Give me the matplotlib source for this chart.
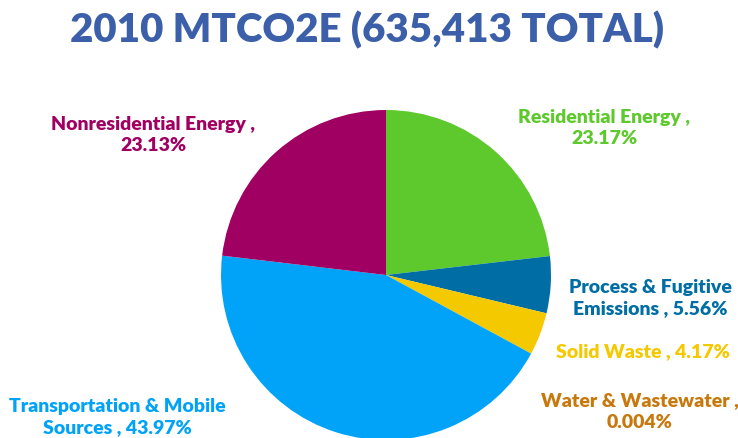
import matplotlib.pyplot as plt

labels = ['Residential Energy ,\n23.17%', 'Process & Fugitive\nEmissions , 5.56%',
          'Solid Waste , 4.17%', 'Water & Wastewater ,\n0.004%',
          'Transportation & Mobile\nSources , 43.97%', 'Nonresidential Energy ,\n23.13%']
shares = [23.17, 5.56, 4.17, 0.004, 43.97, 23.13]
colors = ['#5ec92d', '#006ea4', '#f5c900', '#c8790e', '#00a3f8', '#a00062']
label_colors = ['#5ec92d', '#006ea4', '#f5c900', '#c8790e', '#00a3f8', '#a00062']

# label centres in pixels (from top-left of the image)
label_pos = [(604, 128), (650, 298), (643, 352), (640, 412), (117, 417), (153, 135)]

W, H = 738, 439
fig = plt.figure(figsize=(W / 100, H / 100), dpi=100)
ax = fig.add_axes([0, 0, 1, 1])

cx, cy, r = 386, H - 276, 165
ax.pie(shares, colors=colors, startangle=90, counterclock=False,
       center=(cx, cy), radius=r, frame=True,
       wedgeprops={'linewidth': 0})
ax.set_xlim(0, W)
ax.set_ylim(0, H)
ax.set_aspect('equal')
ax.axis('off')

for lab, c, (x, y) in zip(labels, label_colors, label_pos):
    ax.text(x, H - y, lab, color=c, ha='center', va='center', fontsize=14,
            fontweight='heavy', family='Lato', linespacing=1.35)

fig.text(0.497, 1 - 30 / H, '2010 MTCO2E (635,413 TOTAL)', ha='center', va='center',
         fontsize=29, fontweight='heavy', family='Lato', color='#3c5fa9')

fig.savefig('out.png', dpi=100)
